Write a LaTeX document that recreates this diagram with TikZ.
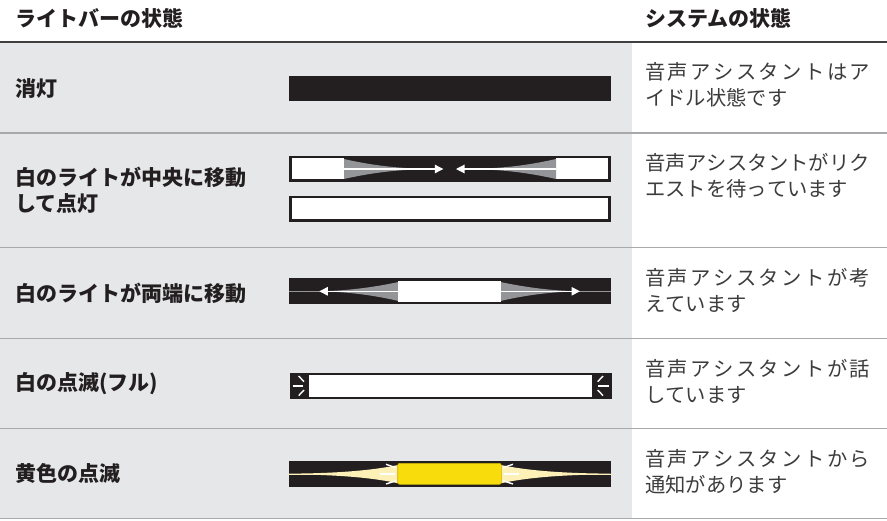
\documentclass[tikz,border=0pt]{standalone}
\usepackage{fontspec}
\setmainfont{Noto Sans CJK JP}
\usetikzlibrary{arrows.meta}
\XeTeXlinebreaklocale "ja"
\XeTeXlinebreakskip=0pt plus 4pt

\definecolor{cellgray}{HTML}{E6E7E8}
\definecolor{barblack}{HTML}{231F20}
\definecolor{wedgegray}{HTML}{939598}
\definecolor{rulegray}{HTML}{A7A9AC}
\definecolor{lampyellow}{HTML}{F9DC0B}
\definecolor{glowyellow}{HTML}{FDF1B8}
\definecolor{textdark}{HTML}{231F20}
\definecolor{textgray}{HTML}{3C3C3C}

\tikzset{
  headtext/.style={anchor=west, inner sep=0pt, text=textdark, font=\fontsize{21}{26}\selectfont\bfseries},
  labeltext/.style={anchor=west, inner sep=0pt, align=left, text=textdark, font=\fontsize{21}{26}\selectfont\bfseries},
  statetext/.style={anchor=north west, inner sep=0pt, text width=225pt, align=justify, text=textgray, font=\fontsize{20.3}{26}\selectfont},
  rowrule/.style={rulegray, line width=1.6pt},
  whitearrow/.style={white, line width=1.1pt, -{Triangle[length=8.5pt,width=8.5pt]}},
  ray/.style={white, line width=1.4pt},
}

\begin{document}
\begin{tikzpicture}[x=1pt, y=-1pt]
    \useasboundingbox (0,0) rectangle (887,520);

    % Table
    \fill[cellgray] (0,42) rectangle (632,518);
    \draw[black!75, line width=1.3pt] (0,42) -- (887,42);
    \foreach \y in {133,247.5,338.5,428.5,518.5}
        \draw[rowrule] (0,\y) -- (887,\y);

    % Headings
    \node[headtext] (barhead) at (15,18) {ライトバーの状態};
    \node[headtext] (statehead) at (645,18) {システムの状態};

    % Light bar states
    \node[labeltext] (idle) at (15,88) {消灯};
    \node[labeltext] (listen) at (15,190) {白のライトが中央に移動\\して点灯};
    \node[labeltext] (think) at (15,293) {白のライトが両端に移動};
    \node[labeltext] (speak) at (15,383.5) {白の点滅(フル)};
    \node[labeltext] (notify) at (15,473.5) {黄色の点滅};

    % System states
    \node[statetext] (idlestate) at (645,62.5) {音声アシスタントはア\linebreak イドル状態です};
    \node[statetext] (listenstate) at (645,153.5) {音声アシスタントがリク\linebreak エストを待っています};
    \node[statetext] (thinkstate) at (645,268) {音声アシスタントが考\linebreak えています};
    \node[statetext] (speakstate) at (645,359) {音声アシスタントが話\linebreak しています};
    \node[statetext] (notifystate) at (645,449) {音声アシスタントから\linebreak 通知があります};

    % Bar: off
    \fill[barblack] (289,75.5) rectangle (610.5,100.5);

    % Bar: moving to centre, then lit
    \fill[barblack] (289,155.7) rectangle (611,182);
    \fill[white] (291.7,158.3) rectangle (344,179.3);
    \fill[white] (556,158.3) rectangle (608.3,179.3);
    \fill[wedgegray] (344,159) .. controls (375,166) and (400,168.5) .. (432,169)
        .. controls (400,169.5) and (375,172) .. (344,179) -- cycle;
    \fill[wedgegray] (556,159) .. controls (525,166) and (500,168.5) .. (468,169)
        .. controls (500,169.5) and (525,172) .. (556,179) -- cycle;
    \coordinate (inL) at (344,169);
    \coordinate (tipL) at (443.3,169);
    \coordinate (inR) at (556,169);
    \coordinate (tipR) at (456,169);
    \draw[whitearrow] (inL) -- (tipL);
    \draw[whitearrow] (inR) -- (tipR);
    \filldraw[fill=white, draw=barblack, line width=2.6pt] (290.3,197) rectangle (609.7,220.4);

    % Bar: moving to both ends
    \fill[barblack] (289,278.3) rectangle (610.7,304.3);
    \draw[wedgegray, line width=0.7pt] (289,291.3) -- (610.7,291.3);
    \fill[wedgegray] (398.5,282) .. controls (375,287) and (350,290.5) .. (321,291.3)
        .. controls (350,292) and (375,295.5) .. (398.5,301) -- cycle;
    \fill[wedgegray] (500.5,282) .. controls (524,287) and (549,290.5) .. (578,291.3)
        .. controls (549,292) and (524,295.5) .. (500.5,301) -- cycle;
    \fill[white] (398.3,281) rectangle (500.7,302.3);
    \coordinate (midL) at (398.3,291.3);
    \coordinate (endL) at (319.3,291.3);
    \coordinate (midR) at (500.7,291.3);
    \coordinate (endR) at (580,291.3);
    \draw[whitearrow] (midL) -- (endL);
    \draw[whitearrow] (midR) -- (endR);

    % Bar: full white pulse
    \fill[barblack] (290,372.7) rectangle (611.7,399.3);
    \fill[white] (309,375) rectangle (592,396.7);
    \draw[ray] (298.7,376) -- (304,381.7);
    \draw[ray] (292.7,385.8) -- (303.3,385.8);
    \draw[ray] (298.7,395.6) -- (304,390);
    \draw[ray] (603,376) -- (597.7,381.7);
    \draw[ray] (609,385.8) -- (598.3,385.8);
    \draw[ray] (603,395.6) -- (597.7,390);

    % Bar: yellow pulse
    \fill[barblack] (289,460.7) rectangle (610.7,487.3);
    \draw[glowyellow, line width=0.8pt] (289,474) -- (610.7,474);
    \fill[glowyellow] (398,465) .. controls (370,471) and (330,473.5) .. (289,473.6)
        -- (289,474.4) .. controls (330,474.5) and (370,477) .. (398,483.3) -- cycle;
    \fill[glowyellow] (501,465) .. controls (529,471) and (569,473.5) .. (610.7,473.6)
        -- (610.7,474.4) .. controls (569,474.5) and (529,477) .. (501,483.3) -- cycle;
    \filldraw[fill=lampyellow, draw=lampyellow!80!black, line width=0.6pt, rounded corners=2pt]
        (397.7,463.3) rectangle (501.3,484.3);
    \draw[ray] (386,464.3) -- (396,467.7);
    \draw[ray] (380,474) -- (395,474);
    \draw[ray] (386,484) -- (396,480.7);
    \draw[ray] (513,464.3) -- (503,467.7);
    \draw[ray] (519,474) -- (504,474);
    \draw[ray] (513,484) -- (503,480.7);
\end{tikzpicture}
\end{document}
